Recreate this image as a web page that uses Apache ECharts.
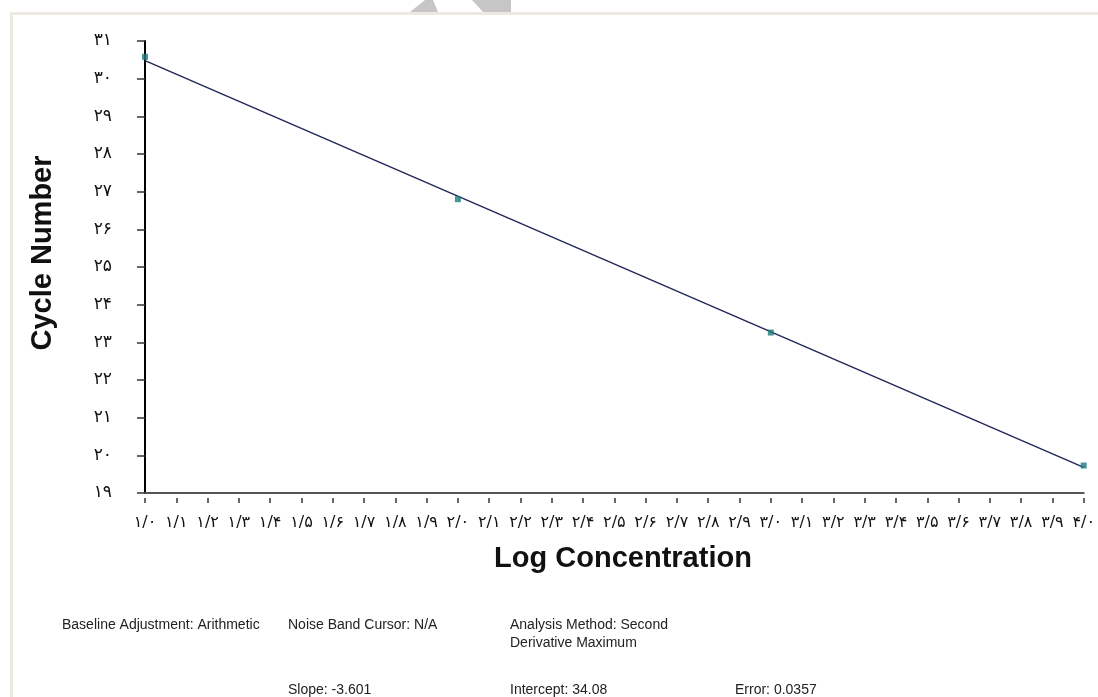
<!DOCTYPE html>
<html>
<head>
<meta charset="utf-8">
<script src="https://cdn.jsdelivr.net/npm/echarts@6/dist/echarts.min.js"></script>
<style>
html,body{margin:0;padding:0;background:#fff;}
#chart{width:1098px;height:697px;}
</style>
</head>
<body>
<div id="chart"></div>
<script>
// ---- data ----
const concentrations = [1.0, 2.0, 3.0, 4.0];
const cycleNumbers = [30.58, 26.80, 23.26, 19.73];
const fitX = [1.0, 4.0];
const fitY = [30.48, 19.68];
const yTickLabels = ['۱۹','۲۰','۲۱','۲۲','۲۳','۲۴','۲۵','۲۶','۲۷','۲۸','۲۹','۳۰','۳۱'];
const xTickLabels = ['۱/۰','۱/۱','۱/۲','۱/۳','۱/۴','۱/۵','۱/۶','۱/۷','۱/۸','۱/۹',
  '۲/۰','۲/۱','۲/۲','۲/۳','۲/۴','۲/۵','۲/۶','۲/۷','۲/۸','۲/۹',
  '۳/۰','۳/۱','۳/۲','۳/۳','۳/۴','۳/۵','۳/۶','۳/۷','۳/۸','۳/۹','۴/۰'];
const yAxisTitle = 'Cycle Number';
const xAxisTitle = 'Log Concentration';
const infoTexts = [
  ['Baseline Adjustment: Arithmetic', 62, 625],
  ['Noise Band Cursor: N/A', 288, 625],
  ['Analysis Method: Second', 510, 625],
  ['Derivative Maximum', 510, 643],
  ['Slope: -3.601', 288, 690],
  ['Intercept: 34.08', 510, 690],
  ['Error: 0.0357', 735, 690]
];

const chart = echarts.init(document.getElementById('chart'));
const xMin = 1, xMax = 4, xInt = 0.1;
const yMin = 19, yMax = 31;

const graphics = [
  {type:'rect', shape:{x:10,y:12,width:1088,height:3}, style:{fill:'#ECE9E0'}, silent:true},
  {type:'rect', shape:{x:10,y:12,width:3,height:685}, style:{fill:'#ECE9E0'}, silent:true},
  {type:'polygon', shape:{points:[[410,12],[425,0],[433,0],[438,12]]}, style:{fill:'#c6c6c6'}, silent:true},
  {type:'polygon', shape:{points:[[472,0],[511,0],[511,12],[483,12]]}, style:{fill:'#c6c6c6'}, silent:true},
  {type:'text', x:43, y:253, rotation:Math.PI/2,
    style:{text:yAxisTitle, font:'bold 29px "Liberation Sans", Arial, sans-serif', fill:'#111', align:'center', verticalAlign:'middle'}},
  {type:'text', x:623, y:559,
    style:{text:xAxisTitle, font:'bold 29px "Liberation Sans", Arial, sans-serif', fill:'#111', align:'center', verticalAlign:'middle'}}
];
infoTexts.forEach(t => graphics.push({type:'text', x:t[1], y:t[2],
  style:{text:t[0], font:'14px "Liberation Sans", Arial, sans-serif', fill:'#222', align:'left', verticalAlign:'middle'}}));

const option = {
  animation:false,
  backgroundColor:'#ffffff',
  grid:{left:145, right:11, top:41, bottom:204, containLabel:false},
  xAxis:[{
    type:'value', min:xMin, max:xMax, interval:xInt,
    axisLine:{show:true, onZero:false, lineStyle:{color:'#555', width:2}},
    axisTick:{show:false},
    splitLine:{show:false},
    axisLabel:{show:true, margin:22, fontSize:16, color:'#111', fontFamily:'"DejaVu Sans", sans-serif',
      formatter:v => xTickLabels[Math.round((v - xMin)/xInt)] || ''}
  },{
    type:'value', min:xMin, max:xMax, interval:xInt, position:'bottom', offset:5,
    axisLine:{show:false},
    axisTick:{show:true, length:5, lineStyle:{color:'#333', width:1.5}},
    splitLine:{show:false},
    axisLabel:{show:false}
  }],
  yAxis:{
    type:'value', min:yMin, max:yMax, interval:1,
    axisLine:{show:true, onZero:false, lineStyle:{color:'#000', width:2}},
    axisTick:{show:true, length:8, lineStyle:{color:'#333', width:1.5}},
    splitLine:{show:false},
    axisLabel:{margin:33, fontSize:17, color:'#111', fontFamily:'"DejaVu Sans", sans-serif',
      padding:[5,0,0,0],
      formatter:v => yTickLabels[Math.round(v - yMin)] || ''}
  },
  series:[{
    type:'line', xAxisIndex:0,
    data: fitX.map((x,i)=>[x, fitY[i]]),
    symbol:'none',
    lineStyle:{color:'#22285a', width:1.5},
    z:2
  },{
    type:'scatter', xAxisIndex:0,
    data: concentrations.map((x,i)=>[x, cycleNumbers[i]]),
    symbol:'rect', symbolSize:6,
    itemStyle:{color:'#1d7a7e'},
    z:3
  }],
  graphic: graphics
};
chart.setOption(option);
</script>
</body>
</html>
